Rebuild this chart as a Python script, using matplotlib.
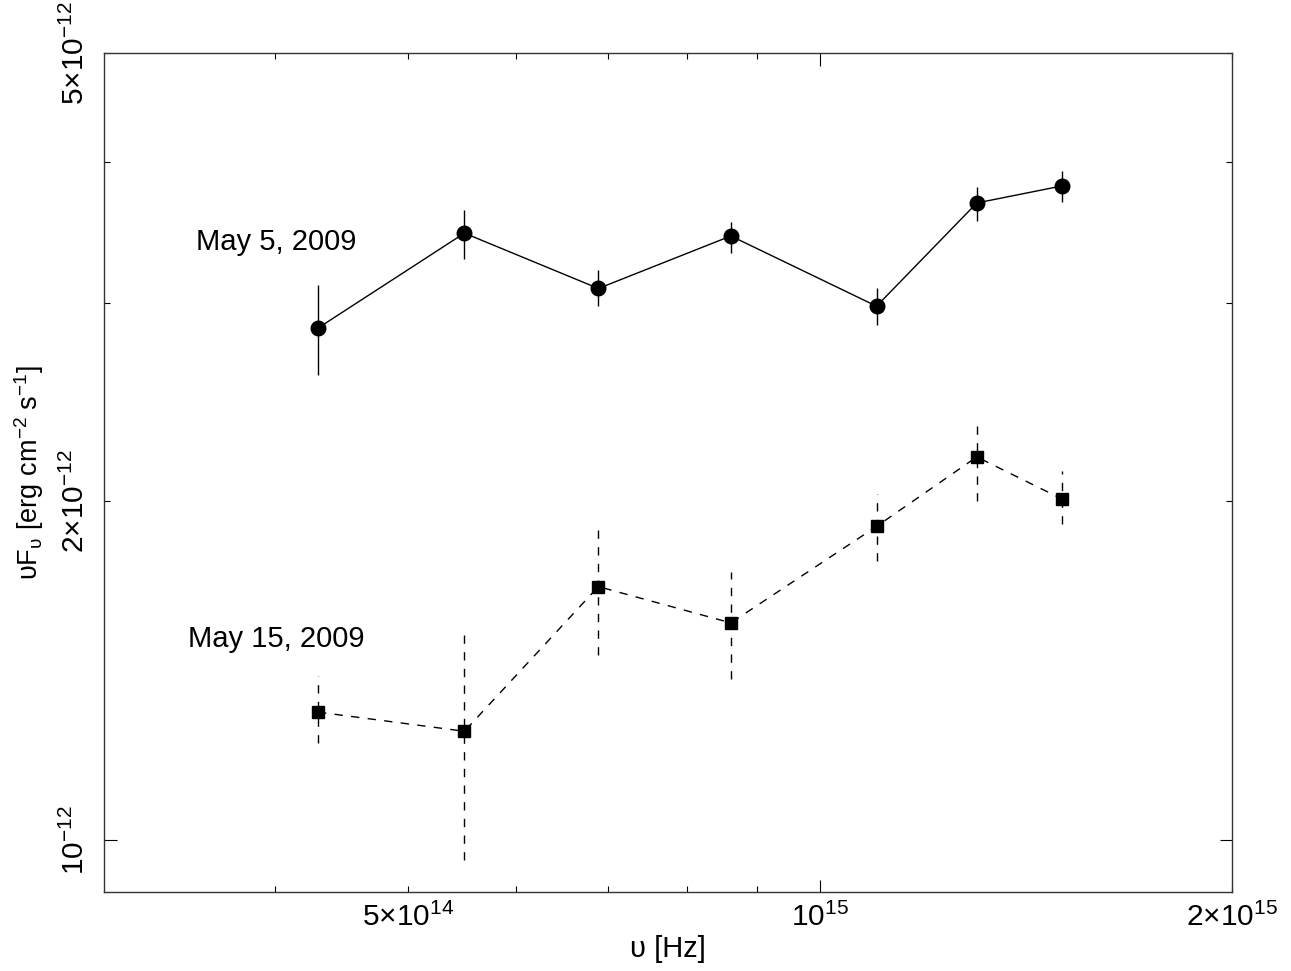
import matplotlib
matplotlib.use("Agg")
import matplotlib.pyplot as plt
from matplotlib.ticker import FixedLocator, FuncFormatter

plt.rcParams['font.family'] = ['Liberation Sans', 'DejaVu Sans']
plt.rcParams['mathtext.fontset'] = 'custom'
plt.rcParams['mathtext.rm'] = 'Liberation Sans'
plt.rcParams['mathtext.it'] = 'Liberation Sans:italic'
plt.rcParams['mathtext.bf'] = 'Liberation Sans:bold'

# frequencies [Hz]
freq = [4.30e14, 5.50e14, 6.89e14, 8.61e14, 1.10e15, 1.302e15, 1.502e15]

# May 5, 2009 (circles) nuFnu in 1e-12 erg cm^-2 s^-1
may5 = [2.85, 3.46, 3.09, 3.44, 2.98, 3.68, 3.81]
may5_lo = [0.26, 0.18, 0.11, 0.12, 0.11, 0.13, 0.12]
may5_hi = [0.26, 0.165, 0.12, 0.10, 0.11, 0.12, 0.12]

# May 15, 2009 (squares)
may15 = [1.30, 1.25, 1.68, 1.56, 1.90, 2.19, 2.01]
may15_lo = [0.08, 0.29, 0.22, 0.17, 0.13, 0.19, 0.10]
may15_hi = [0.10, 0.29, 0.22, 0.17, 0.13, 0.18, 0.12]

scale = 1e-12
labels = ["May 5, 2009", "May 15, 2009"]

fig = plt.figure(figsize=(12.91, 9.71), dpi=100)
ax = fig.add_axes([104/1291, 1-892/971, (1232-104)/1291, (892-53)/971])

y1 = [v*scale for v in may5]
e1 = [[v*scale for v in may5_lo], [v*scale for v in may5_hi]]
y2 = [v*scale for v in may15]
e2 = [[v*scale for v in may15_lo], [v*scale for v in may15_hi]]

ax.errorbar(freq, y1, yerr=e1, fmt='o', color='black', ms=10.5,
            elinewidth=1.0, capsize=0, ls='none')
ax.plot(freq, y1, '-', color='black', lw=1.0)

eb = ax.errorbar(freq, y2, yerr=e2, fmt='s', color='black', ms=9.2,
                 elinewidth=1.0, capsize=0, ls='none')
for c in eb[2]:
    c.set_linestyle((0, (6, 6)))
ax.plot(freq, y2, color='black', lw=1.0, ls=(0, (6, 6)))

ax.set_xscale('log')
ax.set_yscale('log')
ax.set_xlim(3e14, 2e15)
ax.set_ylim(0.9e-12, 5e-12)

fs = 21
tfs = 21.5
ax.xaxis.set_major_locator(FixedLocator([1e15]))
ax.xaxis.set_minor_locator(FixedLocator([4e14, 5e14, 6e14, 7e14, 8e14, 9e14, 2e15]))
xlab = {1e15: '10$^{15}$', 5e14: '5×10$^{14}$', 2e15: '2×10$^{15}$'}
def xfmt(v, pos):
    for k, s in xlab.items():
        if abs(v - k) / k < 1e-6:
            return s
    return ''
ax.xaxis.set_major_formatter(FuncFormatter(xfmt))
ax.xaxis.set_minor_formatter(FuncFormatter(xfmt))

ax.yaxis.set_major_locator(FixedLocator([1e-12]))
ax.yaxis.set_minor_locator(FixedLocator([2e-12, 3e-12, 4e-12, 5e-12]))
ylab = {1e-12: '10$^{-12}$', 2e-12: '2×10$^{-12}$', 5e-12: '5×10$^{-12}$'}
def yfmt(v, pos):
    for k, s in ylab.items():
        if abs(v - k) / k < 1e-6:
            return s
    return ''
ax.yaxis.set_major_formatter(FuncFormatter(yfmt))
ax.yaxis.set_minor_formatter(FuncFormatter(yfmt))

ax.tick_params(which='both', direction='in', top=True, right=True,
               labelsize=tfs, width=0.8, color='black')
ax.tick_params(which='major', length=9, pad=8)
ax.tick_params(which='minor', length=4.5, pad=8)
ax.tick_params(axis='y', which='both', labelrotation=90, pad=10)
for lab in ax.yaxis.get_majorticklabels() + ax.yaxis.get_minorticklabels():
    lab.set_verticalalignment('center')

for sp in ax.spines.values():
    sp.set_linewidth(1.0)
    sp.set_color('#333333')

ax.set_xlabel('υ [Hz]', fontsize=fs, labelpad=2)
ax.set_ylabel('υF$_{\\mathrm{υ}}$ [erg cm$^{-2}$ s$^{-1}$]', fontsize=19.5, labelpad=11)

ax.text(3.5e14, 3.40e-12, labels[0], fontsize=fs, ha='left', va='center')
ax.text(3.456e14, 1.508e-12, labels[1], fontsize=fs, ha='left', va='center')

fig.savefig('out.png', dpi=100)
